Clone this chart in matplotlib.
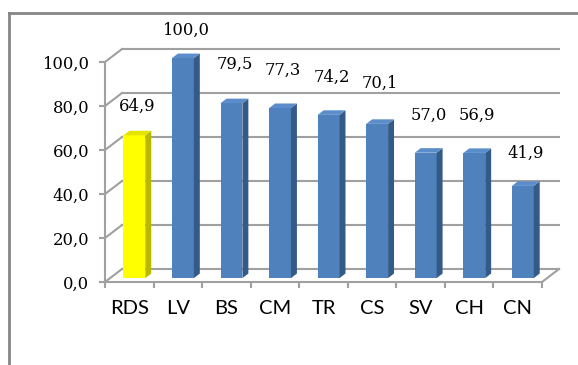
import matplotlib.pyplot as plt
import numpy as np
from matplotlib.lines import Line2D
from matplotlib.patches import Polygon

# data
categories = ["RDS", "LV", "BS", "CM", "TR", "CS", "SV", "CH", "CN"]
values = [64.9, 100.0, 79.5, 77.3, 74.2, 70.1, 57.0, 56.9, 41.9]
y_ticks = [0, 20, 40, 60, 80, 100]

# how far each value label sits above its bar top (in value units), as placed in the reference
label_lift = [13.0, 12.6, 17.7, 17.3, 17.2, 18.6, 16.8, 17.0, 14.9]

blue = ("#4F81BD", "#345A88", "#5B8DCB")      # front, side, top
yellow = ("#FFFF00", "#B8B800", "#E4E400")

fig = plt.figure(figsize=(5.78, 3.65), dpi=100)
ax = fig.add_axes([105 / 578, 1 - 282 / 365, 437 / 578, 220 / 365])
ax.set_xlim(-0.5, len(categories) - 0.5)
ax.set_ylim(0, 100)

# depth of the 3D box in data units (about 17 px right, 13 px up)
DX = 17 / (437 / len(categories))
DY = 13 / 2.2
f0, f1 = 0.3, 0.65  # depth slice occupied by the bars
bw = 0.45
grid_c = "#A0A0A0"
num_font = dict(fontsize=11.8, family="DejaVu Serif")

# back wall gridlines and left wall diagonals
x0, x1 = -0.5, len(categories) - 0.5
for v in y_ticks:
    ax.plot([x0 + DX, x1 + DX], [v + DY, v + DY], color=grid_c, lw=1.5, clip_on=False, zorder=1)
    ax.plot([x0, x0 + DX], [v, v + DY], color=grid_c, lw=1.5, clip_on=False, zorder=1)
ax.plot([x1, x1 + DX], [0, DY], color=grid_c, lw=1.5, clip_on=False, zorder=1)

# bars: front face with ax.bar, side and top faces as polygons
xs = np.arange(len(categories)) + f0 * DX
cols = [yellow if i == 0 else blue for i in range(len(categories))]
ax.bar(xs, values, width=bw, bottom=f0 * DY, color=[c[0] for c in cols], zorder=3, clip_on=False)
ddx, ddy = (f1 - f0) * DX, (f1 - f0) * DY
for x, v, c, lift in zip(xs, values, cols, label_lift):
    b = f0 * DY
    t = v + f0 * DY
    r = x + bw / 2
    l = x - bw / 2
    side = Polygon([(r, b), (r + ddx, b + ddy), (r + ddx, t + ddy), (r, t)],
                   closed=True, facecolor=c[1], edgecolor="none", zorder=3, clip_on=False)
    top = Polygon([(l, t), (r, t), (r + ddx, t + ddy), (l + ddx, t + ddy)],
                  closed=True, facecolor=c[2], edgecolor="none", zorder=3, clip_on=False)
    ax.add_patch(side)
    ax.add_patch(top)
    ax.text(x + 0.06, t + lift, f"{v:.1f}".replace(".", ","), ha="center", va="center",
            color="black", zorder=4, **num_font)

# axes styling
for s in ["top", "right"]:
    ax.spines[s].set_visible(False)
for s in ["left", "bottom"]:
    ax.spines[s].set_color(grid_c)
    ax.spines[s].set_linewidth(1.5)

ax.set_yticks(y_ticks)
ax.set_yticklabels([f"{v:.1f}".replace(".", ",") for v in y_ticks], **num_font)
ax.set_xticks(np.arange(len(categories) + 1) - 0.5)
ax.set_xticklabels([])
ax.set_xticks(np.arange(len(categories)), minor=True)
ax.set_xticklabels(categories, minor=True, fontsize=14.5, family="Lato")
ax.tick_params(axis="y", direction="out", length=4.5, width=1.5, color=grid_c, pad=7)
ax.tick_params(axis="x", which="major", direction="out", length=4.5, width=1.5, color=grid_c)
ax.tick_params(axis="x", which="minor", length=0, pad=13)
ax.patch.set_visible(False)

# outer chart border (only top and left visible in the reference)
bx, by = 9 / 578, 1 - 13 / 365
fig.add_artist(Line2D([bx, 1], [by, by], color="#868686", lw=2, transform=fig.transFigure))
fig.add_artist(Line2D([bx, bx], [0, by], color="#868686", lw=2, transform=fig.transFigure))

fig.savefig("out.png", dpi=100)
